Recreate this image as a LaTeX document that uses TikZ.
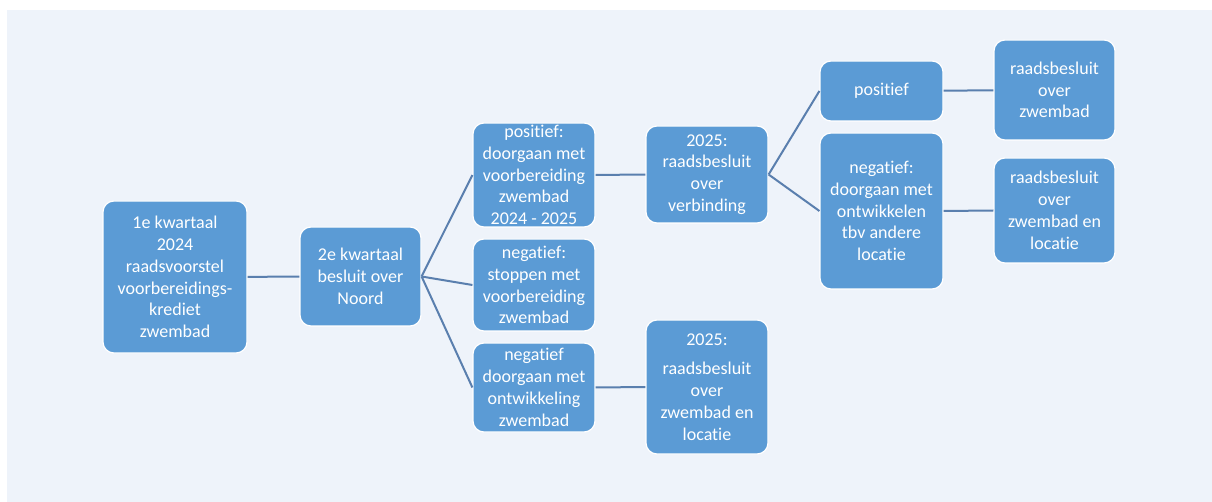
\documentclass[tikz,border=0pt]{standalone}
\usepackage{fontspec}
\setmainfont{Carlito}[Ligatures=NoCommon]
\usetikzlibrary{positioning}

\definecolor{boxblue}{HTML}{5B9BD5}
\definecolor{linkblue}{HTML}{5A7FAE}
\definecolor{paper}{HTML}{EEF3FA}

\begin{document}
\begin{tikzpicture}[
  x=1pt, y=-1pt,
  stage/.style={rectangle, rounded corners=11pt, draw=white, line width=1.2pt,
    fill=boxblue, text=white, align=center, inner sep=0pt,
    font=\fontsize{18}{21.8}\selectfont},
  link/.style={draw=linkblue, line width=2pt}
]
  % background
  \useasboundingbox (0,0) rectangle (1212,502);
  \fill[paper] (7,10) rectangle (1212,502);

  % first column
  \node[stage, minimum width=144pt, minimum height=152pt] (q1) at (175,277)
    {1e kwartaal\\2024\\raadsvoorstel\\voorbereidings-\\krediet\\zwembad};
  \node[stage, minimum width=121pt, minimum height=99pt] (q2) at (360.5,276.5)
    {2e kwartaal\\besluit over\\Noord};

  % outcomes of Noord
  \node[stage, minimum width=122pt, minimum height=104pt] (pos) at (534,175)
    {positief:\\doorgaan met\\voorbereiding\\zwembad\\2024 - 2025};
  \node[stage, minimum width=122pt, minimum height=92pt] (stop) at (534,285)
    {negatief:\\stoppen met\\voorbereiding\\zwembad};
  \node[stage, minimum width=122pt, minimum height=89pt] (neg) at (534,387.5)
    {negatief\\doorgaan met\\ontwikkeling\\zwembad};

  % 2025 decisions
  \node[stage, minimum width=122pt, minimum height=97pt] (verb) at (707,174.5)
    {2025:\\raadsbesluit\\over\\verbinding};
  \node[stage, minimum width=122pt, minimum height=134pt] (loc) at (707,387)
    {2025:\\[8pt]raadsbesluit\\over\\zwembad en\\locatie};

  % outcomes of verbinding
  \node[stage, minimum width=123pt, minimum height=60pt] (vpos) at (881.5,91)
    {positief};
  \node[stage, minimum width=123pt, minimum height=156pt] (vneg) at (881.5,211)
    {negatief:\\doorgaan met\\ontwikkelen\\tbv andere\\locatie};

  \node[stage, minimum width=121pt, minimum height=100pt] (zw) at (1054.5,90)
    {raadsbesluit\\over\\zwembad};
  \node[stage, minimum width=121pt, minimum height=105pt] (zwloc) at (1054.5,210.5)
    {raadsbesluit\\over\\zwembad en\\locatie};

  \draw[link] (q1) -- (q2);
  \draw[link] (q2.east) -- (pos.west);
  \draw[link] (q2.east) -- (stop.west);
  \draw[link] (q2.east) -- (neg.west);
  \draw[link] (pos) -- (verb);
  \draw[link] (neg) -- (loc);
  \draw[link] (verb.east) -- (vpos.west);
  \draw[link] (verb.east) -- (vneg.west);
  \draw[link] (vpos) -- (zw);
  \draw[link] (vneg.east) -- (zwloc.west);
\end{tikzpicture}
\end{document}
